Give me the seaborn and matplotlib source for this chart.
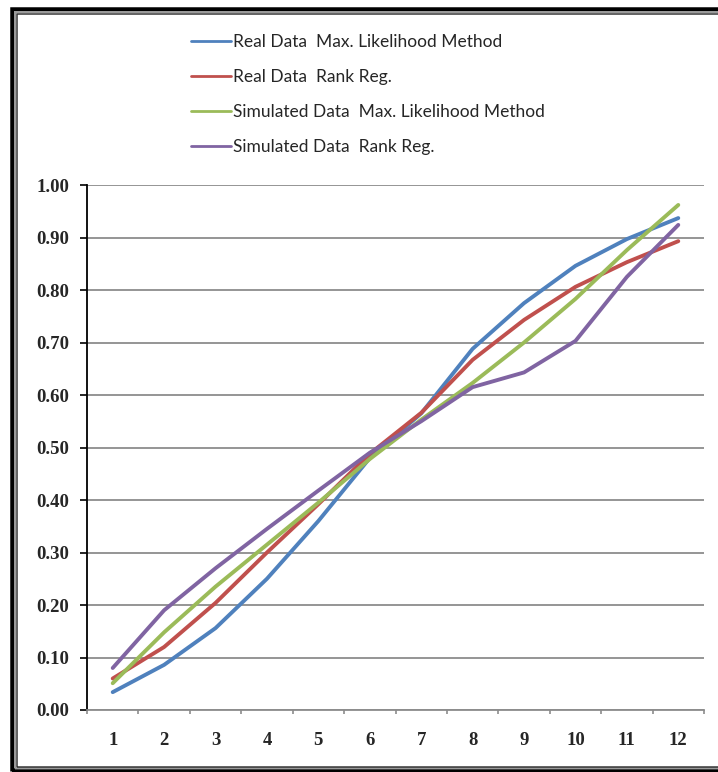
import numpy as np
import pandas as pd
import matplotlib
matplotlib.use("Agg")
import matplotlib.pyplot as plt
from matplotlib.patches import Rectangle
import seaborn as sns

# Values
points = list(range(1, 13))
real_ml = [0.034, 0.086, 0.156, 0.250, 0.360, 0.480, 0.565, 0.688, 0.775, 0.846, 0.897, 0.937]
real_rr = [0.060, 0.120, 0.204, 0.300, 0.392, 0.488, 0.566, 0.667, 0.743, 0.806, 0.853, 0.893]
sim_ml = [0.051, 0.148, 0.235, 0.315, 0.395, 0.478, 0.553, 0.623, 0.700, 0.783, 0.876, 0.962]
sim_rr = [0.080, 0.190, 0.270, 0.345, 0.418, 0.490, 0.550, 0.615, 0.643, 0.703, 0.825, 0.924]

series_names = ["Real Data  Max. Likelihood Method",
                "Real Data  Rank Reg.",
                "Simulated Data  Max. Likelihood Method",
                "Simulated Data  Rank Reg."]
series_colors = ["#4F81BD", "#C0504D", "#9BBB59", "#8064A2"]
y_ticks = [0.0, 0.1, 0.2, 0.3, 0.4, 0.5, 0.6, 0.7, 0.8, 0.9, 1.0]

df = pd.DataFrame({
    "point": points * 4,
    "value": real_ml + real_rr + sim_ml + sim_rr,
    "series": np.repeat(series_names, len(points)),
})

sns.set_style("white")
plt.rcParams["font.family"] = ["Liberation Serif", "DejaVu Serif"]

W, H = 718, 772
fig = plt.figure(figsize=(W / 100, H / 100), dpi=100)
ax = fig.add_axes([87 / W, 1 - 710 / H, (704 - 87) / W, (710 - 185) / H])

sns.lineplot(data=df, x="point", y="value", hue="series", hue_order=series_names,
             palette=series_colors, linewidth=2.8, ax=ax, legend=True)

ax.set_xlim(0.5, 12.5)
ax.set_ylim(0, 1.0)
ax.set_xlabel("")
ax.set_ylabel("")

# y axis: gridlines + black outward ticks, bold serif labels
ax.set_yticks(y_ticks)
ax.set_yticklabels([f"{v:.2f}" for v in y_ticks], fontweight="bold", fontsize=13.5)
ax.yaxis.grid(True, color="#8c8c8c", linewidth=1.3)
ax.tick_params(axis="y", direction="out", length=5, width=1.2, color="black", pad=8, left=True)

# x axis: category labels, tick marks between categories
ax.set_xticks(points)
ax.set_xticklabels([str(p) for p in points], fontweight="bold", fontsize=13.5)
ax.set_xticks(np.arange(0.5, 13, 1), minor=True)
ax.tick_params(axis="x", which="major", length=0, pad=16)
ax.tick_params(axis="x", which="minor", direction="out", length=3, width=1.2, color="#8c8c8c", bottom=True)

for side in ["top", "right"]:
    ax.spines[side].set_visible(False)
ax.spines["left"].set_color("black")
ax.spines["left"].set_linewidth(1.3)
ax.spines["bottom"].set_color("#8c8c8c")
ax.spines["bottom"].set_linewidth(1.3)
ax.set_axisbelow(True)

handles, labels = ax.get_legend_handles_labels()
ax.legend(handles, labels, loc="upper left", bbox_to_anchor=(182 / W, 1 - 25 / H),
          bbox_transform=fig.transFigure, frameon=False, ncol=1,
          prop={"family": ["Lato", "DejaVu Sans"], "size": 12.5},
          handlelength=2.3, handletextpad=0.15, labelspacing=1.1, borderpad=0)
for line in ax.get_legend().get_lines():
    line.set_linewidth(2.0)

# double frame around the chart (right side runs off the picture)
def frame(x0, y0, x1, y1, lw, color):
    fig.add_artist(Rectangle((x0 / W, 1 - y1 / H), (x1 - x0) / W, (y1 - y0) / H,
                             transform=fig.transFigure, fill=False,
                             linewidth=lw * 0.72, edgecolor=color))

frame(12, 8.5, 740, 770.5, 4.5, "black")
frame(15, 12, 736, 768, 2, "#9a9a9a")
frame(17, 14, 734, 766.5, 1.5, "#333333")

fig.savefig("out.png", dpi=100)
